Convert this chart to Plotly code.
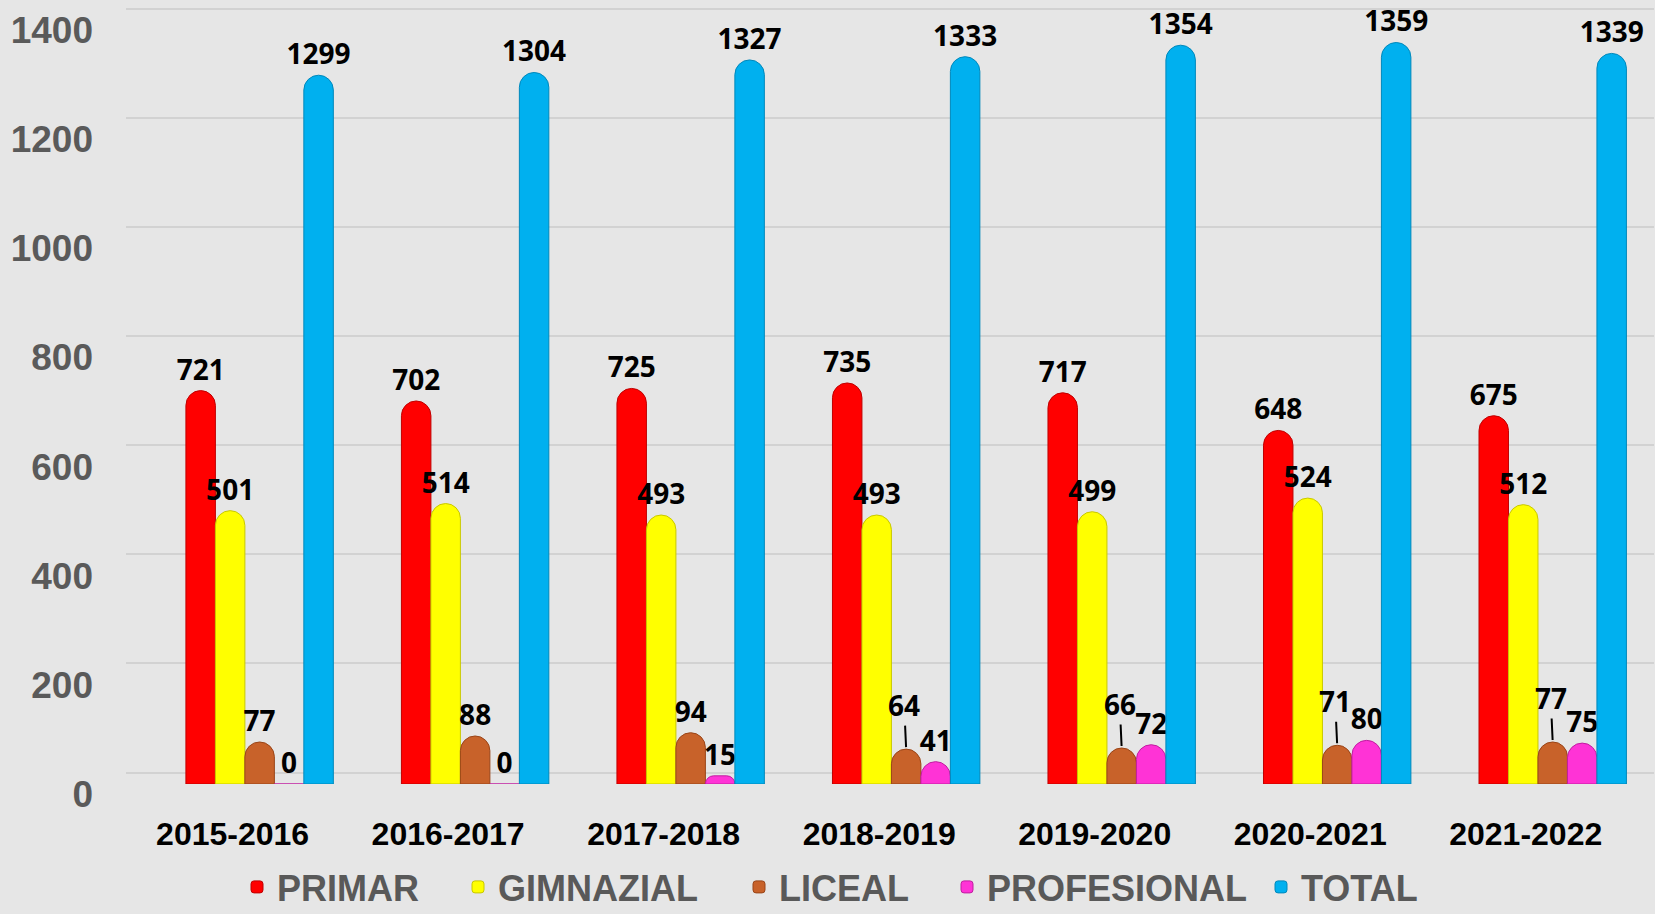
import plotly.graph_objects as go

years = ["2015-2016", "2016-2017", "2017-2018", "2018-2019", "2019-2020", "2020-2021", "2021-2022"]
primar = [721, 702, 725, 735, 717, 648, 675]
gimnazial = [501, 514, 493, 493, 499, 524, 512]
liceal = [77, 88, 94, 64, 66, 71, 77]
profesional = [0, 0, 15, 41, 72, 80, 75]
total = [1299, 1304, 1327, 1333, 1354, 1359, 1339]

series_names = ["PRIMAR", "GIMNAZIAL", "LICEAL", "PROFESIONAL", "TOTAL"]
series_values = [primar, gimnazial, liceal, profesional, total]
series_colors = ["#ff0000", "#ffff00", "#c8622a", "#ff33d6", "#00b0ef"]
edge_colors = ["#c00000", "#c8c800", "#9a4518", "#c01ea0", "#0088bb"]

# LICEAL labels drawn with a leader line in these years
leader_years = ["2018-2019", "2019-2020", "2020-2021", "2021-2022"]

y_ticks = [0, 200, 400, 600, 800, 1000, 1200, 1400]

# left edge (px, container) of each legend entry
legend_x_px = [237, 458, 739, 947, 1261]

label_font = dict(family="Open Sans, Liberation Sans, sans-serif", size=28, color="#000000", weight=700)
legend_font = dict(family="Liberation Sans, Arial, sans-serif", size=36, color="#595959", weight=700)

W, H = 1655, 914
fig = go.Figure()
legend_layouts = {}
for i, (name, vals, col, edge) in enumerate(zip(series_names, series_values, series_colors, edge_colors)):
    if name == "LICEAL":
        txt = ["" if yr in leader_years else str(v) for yr, v in zip(years, vals)]
    else:
        txt = [str(v) for v in vals]
    lg = "legend" if i == 0 else f"legend{i + 1}"
    fig.add_trace(go.Bar(
        x=years, y=vals, name=name, legend=lg,
        marker=dict(color=col, line=dict(color=edge, width=1)),
        text=txt, textposition="outside", constraintext="none",
        cliponaxis=False, textfont=label_font,
        hoverinfo="x+y+name",
    ))
    legend_layouts[lg] = dict(
        orientation="h", xref="container", yref="container",
        x=legend_x_px[i] / W, y=(H - 887) / H, xanchor="left", yanchor="middle",
        bgcolor="rgba(0,0,0,0)", font=legend_font,
    )

# empty helper trace so the shifted grid axis is drawn
fig.add_trace(go.Scatter(x=[], y=[], yaxis="y2", showlegend=False, hoverinfo="skip"))

for yr, v in zip(years, liceal):
    if yr in leader_years:
        fig.add_annotation(
            x=yr, y=v, xref="x", yref="y", text=str(v),
            showarrow=True, arrowhead=0, arrowwidth=2, arrowcolor="#000000",
            ax=-2, ay=-44, standoff=2, font=label_font,
        )

bg = "#e6e6e6"
fig.update_layout(
    width=W, height=H,
    paper_bgcolor=bg, plot_bgcolor=bg,
    barmode="group", bargap=0.316, bargroupgap=0,
    barcornerradius="50%",
    margin=dict(l=126, r=1, t=1, b=130),
    xaxis=dict(
        type="category", range=[-0.62, 6.47],
        showgrid=False, zeroline=False, showline=False, ticks="",
        tickfont=dict(family="Liberation Sans, Arial, sans-serif", size=32, color="#000000", weight=700),
        ticklabelshift=-27, ticklabelstandoff=28,
    ),
    yaxis=dict(
        range=[0, 1435], tickvals=y_ticks,
        showgrid=False, zeroline=False, showline=False, ticks="",
        tickfont=dict(family="Liberation Sans, Arial, sans-serif", size=37, color="#5a5a5a", weight=700),
        ticklabelshift=10, ticklabelstandoff=32,
    ),
    yaxis2=dict(
        overlaying="y", range=[-21, 1414], tickvals=y_ticks,
        showgrid=True, gridcolor="#d2d2d2", gridwidth=2,
        showticklabels=False, zeroline=False, showline=False, ticks="",
    ),
    showlegend=True,
    **legend_layouts,
)

fig.write_html(
    "out.html",
    config={"displayModeBar": False},
    post_script="document.body.style.margin='0';",
)
